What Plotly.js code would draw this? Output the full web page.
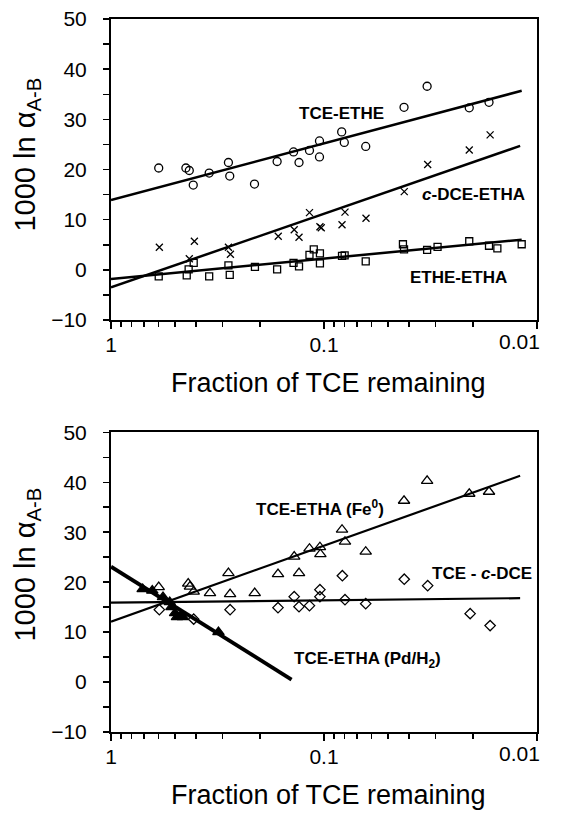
<!DOCTYPE html>
<html>
<head>
<meta charset="utf-8">
<script src="https://cdn.plot.ly/plotly-3.0.1.min.js"></script>
<style>
  html, body { margin: 0; padding: 0; background: #ffffff; }
  #chart { width: 563px; height: 814px; }
</style>
</head>
<body>
<div id="chart"></div>
<script>
// ---- Upper panel: isotope enrichment vs. fraction of TCE remaining ----
const tceEtheFrac = [0.597, 0.445, 0.429, 0.411, 0.346, 0.281, 0.277, 0.212, 0.166, 0.139, 0.131,
                     0.117, 0.105, 0.105, 0.0826, 0.0803, 0.0637, 0.0421, 0.0328, 0.0208, 0.0168];
const tceEtheVal  = [20.3, 20.3, 19.8, 16.9, 19.3, 21.4, 18.7, 17.1, 21.6, 23.5, 21.4,
                     23.8, 25.7, 22.5, 27.5, 25.4, 24.6, 32.4, 36.6, 32.3, 33.4];

const cdceEthaFrac = [0.593, 0.406, 0.429, 0.281, 0.275, 0.164, 0.138, 0.131, 0.117, 0.1045, 0.103,
                      0.0823, 0.0797, 0.0635, 0.042, 0.0326, 0.0208, 0.0166];
const cdceEthaVal  = [4.5, 5.7, 2.2, 4.5, 3.1, 6.7, 8.0, 6.5, 11.4, 8.6, 8.4,
                      9.0, 11.5, 10.3, 15.6, 21.0, 23.9, 26.9];

const etheEthaFrac = [0.597, 0.441, 0.432, 0.409, 0.346, 0.281, 0.277, 0.211, 0.166, 0.139, 0.131,
                      0.117, 0.1117, 0.1045, 0.1045, 0.0823, 0.080, 0.0637, 0.0426, 0.0421, 0.0328,
                      0.0293, 0.0208, 0.0168, 0.01535, 0.0118];
const etheEthaVal  = [-1.3, -1.1, 0.1, 1.4, -1.3, 0.9, -1.0, 0.6, 0.1, 1.4, 0.7,
                      3.0, 4.1, 3.3, 1.3, 2.8, 2.9, 1.7, 5.1, 4.1, 4.0,
                      4.6, 5.7, 4.8, 4.3, 5.1];

// regression lines (end points)
const tceEtheFitFrac  = [1, 0.0118];
const tceEtheFitVal   = [13.9, 35.7];
const cdceEthaFitFrac = [1, 0.012];
const cdceEthaFitVal  = [-3.5, 24.7];
const etheEthaFitFrac = [1, 0.0118];
const etheEthaFitVal  = [-1.8, 6.0];

// ---- Lower panel ----
const feFrac = [0.597, 0.434, 0.426, 0.409, 0.343, 0.276, 0.281, 0.2115, 0.1644, 0.131, 0.138,
                0.117, 0.1045, 0.104, 0.0823, 0.0797, 0.0637, 0.0421, 0.0328, 0.0208, 0.0168];
const feVal  = [19.0, 19.7, 19.1, 18.1, 17.8, 17.6, 21.8, 17.8, 21.6, 21.8, 25.1,
                26.7, 27.0, 25.6, 30.5, 28.1, 26.1, 36.3, 40.3, 37.7, 38.1];

const dceFrac = [0.593, 0.409, 0.276, 0.1644, 0.138, 0.131, 0.117, 0.1045, 0.1045, 0.082,
                 0.0797, 0.0637, 0.042, 0.0326, 0.0206, 0.0166];
const dceVal  = [14.5, 12.6, 14.5, 14.9, 17.1, 15.1, 15.3, 18.5, 17.1, 21.3,
                 16.5, 15.7, 20.6, 19.3, 13.7, 11.3];

const pdFrac = [0.71, 0.64, 0.57, 0.53, 0.52, 0.50, 0.49, 0.47, 0.46, 0.313];
const pdVal  = [18.6, 18.3, 17.0, 16.0, 15.0, 13.8, 13.0, 13.3, 13.0, 10.0];

const feFitFrac  = [1, 0.012];
const feFitVal   = [12.1, 41.3];
const dceFitFrac = [1, 0.012];
const dceFitVal  = [15.9, 16.8];
const pdFitFrac  = [1, 0.142];
const pdFitVal   = [23.1, 0.5];

// axis ticks (the last decade label is placed separately, left of its tick)
const xTickVals = [1, 0.1, 0.01];
const xTickText = ['1', '0.1', ''];
const xLastDecadeLabel = '0.01';
const xMinorVals = [0.9, 0.8, 0.7, 0.6, 0.5, 0.4, 0.3, 0.2,
                    0.09, 0.08, 0.07, 0.06, 0.05, 0.04, 0.03, 0.02];
const yTickVals = [-10, 0, 10, 20, 30, 40, 50];

const FONT = 'Arial, "Liberation Sans", Helvetica, sans-serif';

function pts(x, y, xa, ya, symbol, size) {
  return {
    x: x, y: y, xaxis: xa, yaxis: ya, type: 'scatter', mode: 'markers',
    marker: {
      symbol: symbol, size: size, color: '#000',
      line: { color: '#000', width: 1.3 }
    },
    showlegend: false, hoverinfo: 'x+y'
  };
}
function fit(x, y, xa, ya, w) {
  return {
    x: x, y: y, xaxis: xa, yaxis: ya, type: 'scatter', mode: 'lines',
    line: { color: '#000', width: w }, showlegend: false, hoverinfo: 'skip'
  };
}

const traces = [
  fit(tceEtheFitFrac, tceEtheFitVal, 'x', 'y', 2.5),
  fit(cdceEthaFitFrac, cdceEthaFitVal, 'x', 'y', 2.5),
  fit(etheEthaFitFrac, etheEthaFitVal, 'x', 'y', 2.5),
  pts(tceEtheFrac, tceEtheVal, 'x', 'y', 'circle-open', 8),
  pts(cdceEthaFrac, cdceEthaVal, 'x', 'y', 'x-thin-open', 7),
  pts(etheEthaFrac, etheEthaVal, 'x', 'y', 'square-open', 7),

  fit(feFitFrac, feFitVal, 'x2', 'y2', 2.2),
  fit(dceFitFrac, dceFitVal, 'x2', 'y2', 2.2),
  fit(pdFitFrac, pdFitVal, 'x2', 'y2', 3.8),
  pts(feFrac, feVal, 'x2', 'y2', 'triangle-up-open', 10),
  pts(dceFrac, dceVal, 'x2', 'y2', 'diamond-open', 8),
  pts(pdFrac, pdVal, 'x2', 'y2', 'triangle-up', 10)
];

function xAxis(anchor) {
  return {
    type: 'log', range: [0, -2], autorange: false, anchor: anchor,
    showline: true, linecolor: '#000', linewidth: 2, mirror: true,
    showgrid: false, zeroline: false,
    ticks: 'outside', ticklen: 7, tickwidth: 1.5, tickcolor: '#000',
    tickmode: 'array', tickvals: xTickVals, ticktext: xTickText,
    ticklabelstandoff: -2,
    tickfont: { family: FONT, size: 21, color: '#000' },
    minor: { tickmode: 'array', tickvals: xMinorVals, ticks: 'outside',
             ticklen: 5, tickwidth: 1.5, tickcolor: '#000', showgrid: false }
  };
}
function yAxis(anchor, domain) {
  return {
    range: [-10, 50], autorange: false, anchor: anchor, domain: domain,
    showline: true, linecolor: '#000', linewidth: 2, mirror: true,
    showgrid: false, zeroline: false,
    ticks: 'outside', ticklen: 6, tickwidth: 1.5, tickcolor: '#000',
    tickmode: 'array', tickvals: yTickVals,
    tickfont: { family: FONT, size: 21, color: '#000' },
    ticklabelstandoff: 12,
    minor: { dtick: 5, ticks: 'outside', ticklen: 6, tickwidth: 1.5,
             tickcolor: '#000', showgrid: false }
  };
}

function label(text, x, y, size, bold, angle) {
  return {
    text: text, xref: 'paper', yref: 'paper', x: x, y: y,
    xanchor: 'center', yanchor: 'middle', showarrow: false,
    textangle: angle || 0,
    font: { family: FONT, size: size, color: '#000', weight: bold ? 'bold' : 'normal' }
  };
}

const annotations = [
  label('1000 ln \u03b1<sub>A-B</sub>', -0.197, 0.810, 29, false, -90),
  label('1000 ln \u03b1<sub>A-B</sub>', -0.197, 0.235, 29, false, -90),
  label('Fraction of TCE remaining', 0.51, 0.4895, 27, false),
  label('Fraction of TCE remaining', 0.51, -0.0884, 27, false),

  label(xLastDecadeLabel, 0.960, 0.5480, 21, false),
  label(xLastDecadeLabel, 0.960, -0.0302, 21, false),

  label('TCE-ETHE', 0.540, 0.8668, 17, true),
  label('<i>c</i>-DCE-ETHA', 0.850, 0.7539, 17, true),
  label('ETHE-ETHA', 0.8146, 0.6372, 17, true),

  label('TCE-ETHA (Fe<sup>0</sup>)', 0.4906, 0.3137, 17, true),
  label('TCE - <i>c</i>-DCE', 0.8709, 0.2216, 17, true),
  label('TCE-ETHA (Pd/H<sub>2</sub>)', 0.601, 0.1010, 17, true)
];

const layout = {
  width: 563, height: 814,
  margin: { l: 111, r: 26, t: 19, b: 82 },
  paper_bgcolor: '#fff', plot_bgcolor: '#fff',
  font: { family: FONT, color: '#000' },
  showlegend: false,
  xaxis: xAxis('y'),
  yaxis: yAxis('x', [0.5778, 1]),
  xaxis2: xAxis('y2'),
  yaxis2: yAxis('x2', [0, 0.4203]),
  annotations: annotations
};

Plotly.newPlot('chart', traces, layout, { staticPlot: true, displayModeBar: false });
</script>
</body>
</html>
